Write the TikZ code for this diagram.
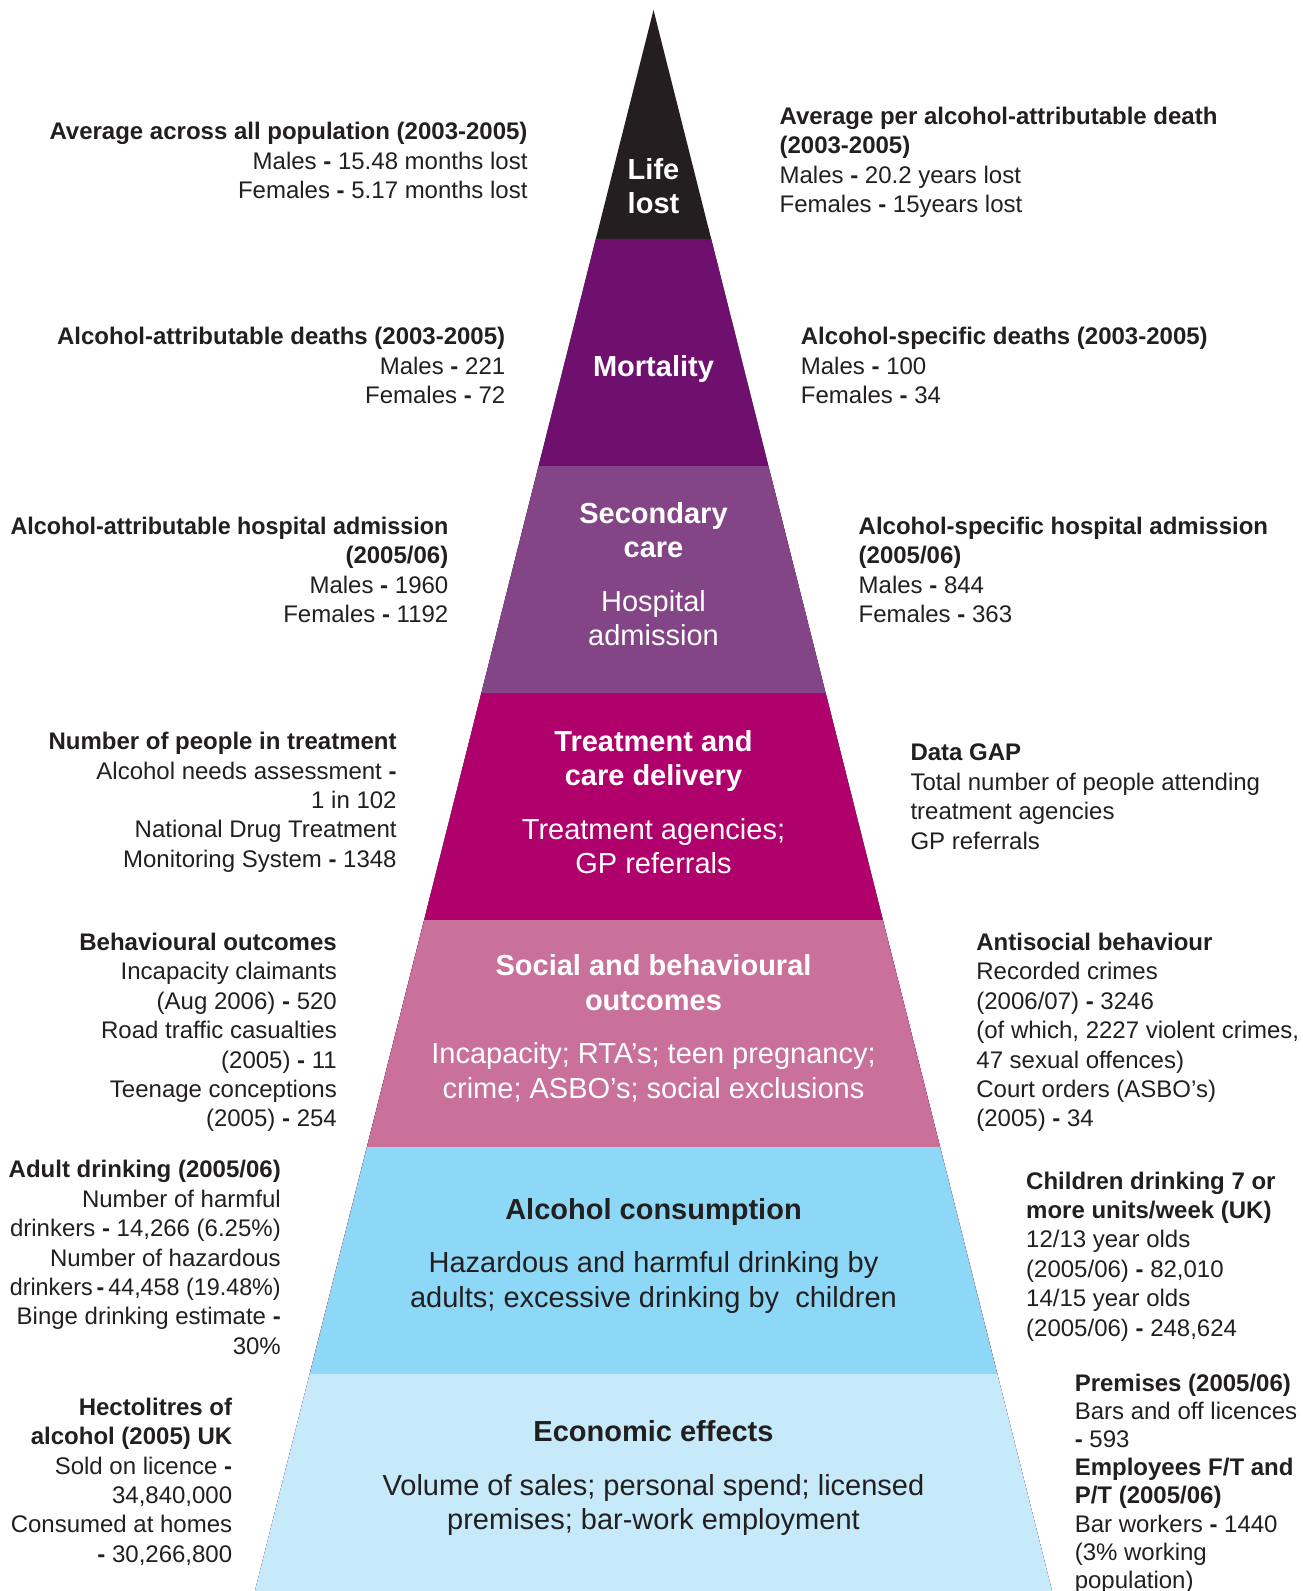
\documentclass[tikz,border=0pt]{standalone}
\usepackage{fontspec}
\setmainfont{Liberation Sans}
\definecolor{ink}{HTML}{231F20}
\definecolor{cLife}{HTML}{231F20}
\definecolor{cMort}{HTML}{6F106E}
\definecolor{cSec}{HTML}{844586}
\definecolor{cTreat}{HTML}{B0006B}
\definecolor{cSoc}{HTML}{CA719B}
\definecolor{cAlc}{HTML}{8DD8F6}
\definecolor{cEco}{HTML}{C6EAF9}
\newcommand\fls{\rule{0pt}{23pt}}
\newcommand\flc{\rule{0pt}{28pt}}
\newcommand\bh{\textbf{-}}
\begin{document}
\begin{tikzpicture}[x=1pt,y=-1pt,
  sidetext/.style={inner sep=0pt, text=ink, font=\fontsize{24}{29.4}\selectfont},
  lefttext/.style={sidetext, anchor=north east, align=right},
  righttext/.style={sidetext, anchor=north west, align=left},
  bandlabel/.style={inner sep=0pt, anchor=north, align=center, font=\fontsize{29}{34.5}\selectfont},
]
\useasboundingbox (0,0) rectangle (1303,1591);
\fill[white] (0,0) rectangle (1303,1591);
% pyramid bands
\begin{scope}
\clip (653.5,10) -- (1051.9,1591) -- (255.1,1591) -- cycle;
\fill[cLife]  (0,0)     rectangle (1303,1591);
\fill[cMort]  (0,238.5) rectangle (1303,1591);
\fill[cSec]   (0,465.5) rectangle (1303,1591);
\fill[cTreat] (0,692.5) rectangle (1303,1591);
\fill[cSoc]   (0,919.5) rectangle (1303,1591);
\fill[cAlc]   (0,1146.5) rectangle (1303,1591);
\fill[cEco]   (0,1373.5) rectangle (1303,1591);
\end{scope}

% band labels
\node[bandlabel, text=white] (c1) at (653.5,150.9) {\flc\textbf{Life}\\\textbf{lost}};
\node[bandlabel, text=white] (c2) at (653.5,348.7) {\flc\textbf{Mortality}};
\node[bandlabel, text=white] (c3) at (653.5,494.9) {\flc\textbf{Secondary}\\\textbf{care}\\[19pt]Hospital\\admission};
\node[bandlabel, text=white] (c4) at (653.5,723.2) {\flc\textbf{Treatment and}\\\textbf{care delivery}\\[19pt]Treatment agencies;\\GP referrals};
\node[bandlabel, text=white] (c5) at (653.5,947.5) {\flc\textbf{Social and behavioural}\\\textbf{outcomes}\\[19pt]Incapacity; RTA’s; teen pregnancy;\\crime; ASBO’s; social exclusions};
\node[bandlabel, text=ink] (c6) at (653.5,1191) {\flc\textbf{Alcohol consumption}\\[19pt]Hazardous and harmful drinking by\\adults; excessive drinking by\ \ children};
\node[bandlabel, text=ink] (c7) at (653.5,1413.3) {\flc\textbf{Economic effects}\\[19pt]Volume of sales; personal spend; licensed\\premises; bar-work employment};

% left texts
\node[lefttext] (l1) at (527.7,116.5) {\fls\textbf{Average across all population (2003-2005)}\\Males \bh{} 15.48 months lost\\Females \bh{} 5.17 months lost};
\node[lefttext] (l2) at (505.4,321.5) {\fls\textbf{Alcohol-attributable deaths (2003-2005)}\\Males \bh{} 221\\Females \bh{} 72};
\node[lefttext] (l3) at (448.5,511.3) {\fls\scalebox{0.971}[1]{\textbf{Alcohol-attributable hospital admission}}\\\textbf{(2005/06)}\\Males \bh{} 1960\\Females \bh{} 1192};
\node[lefttext] (l4) at (396.8,726.4) {\fls\textbf{Number of people in treatment}\\Alcohol needs assessment \bh\\1 in 102\\National Drug Treatment\\Monitoring System \bh{} 1348};
\node[lefttext] (l5) at (337,927.3) {\fls\textbf{Behavioural outcomes}\\Incapacity claimants\\(Aug 2006) \bh{} 520\\Road traffic casualties\\(2005) \bh{} 11\\Teenage conceptions\\(2005) \bh{} 254};
\node[lefttext] (l6) at (281,1154.6) {\fls\textbf{Adult drinking (2005/06)}\\Number of harmful\\drinkers \bh{} 14,266 (6.25\%)\\Number of hazardous\\\scalebox{0.972}[1]{drinkers\hspace{4pt}\bh\hspace{4pt}44,458 (19.48\%)}\\Binge drinking estimate \bh\\30\%};
\node[lefttext] (l7) at (232.4,1392.1) {\fls\textbf{Hectolitres of}\\\textbf{alcohol (2005) UK}\\Sold on licence \bh\\34,840,000\\Consumed at homes\\\bh{} 30,266,800};

% right texts
\node[righttext] (r1) at (779.4,101.3) {\fls\textbf{Average per alcohol-attributable death}\\\textbf{(2003-2005)}\\Males \bh{} 20.2 years lost\\Females \bh{} 15years lost};
\node[righttext] (r2) at (800.7,321.5) {\fls\textbf{Alcohol-specific deaths (2003-2005)}\\Males \bh{} 100\\Females \bh{} 34};
\node[righttext] (r3) at (858.5,511.3) {\fls\textbf{Alcohol-specific hospital admission}\\\textbf{(2005/06)}\\Males \bh{} 844\\Females \bh{} 363};
\node[righttext] (r4) at (910.3,737.6) {\fls\textbf{Data GAP}\\Total number of people attending\\treatment agencies\\GP referrals};
\node[righttext] (r5) at (976.2,927.3) {\fls\textbf{Antisocial behaviour}\\Recorded crimes\\(2006/07) \bh{} 3246\\(of which, 2227 violent crimes,\\47 sexual offences)\\Court orders (ASBO’s)\\(2005) \bh{} 34};
\node[righttext] (r6) at (1026,1165.8) {\fls\textbf{Children drinking 7 or}\\\textbf{more units/week (UK)}\\12/13 year olds\\(2005/06) \bh{} 82,010\\14/15 year olds\\(2005/06) \bh{} 248,624};
\node[righttext, font=\fontsize{24}{28.2}\selectfont] (r7) at (1074.6,1367.8) {\fls\textbf{Premises (2005/06)}\\Bars and off licences\\\bh{} 593\\\textbf{Employees F/T and}\\\textbf{P/T (2005/06)}\\Bar workers \bh{} 1440\\(3\% working\\population)};
\end{tikzpicture}
\end{document}
